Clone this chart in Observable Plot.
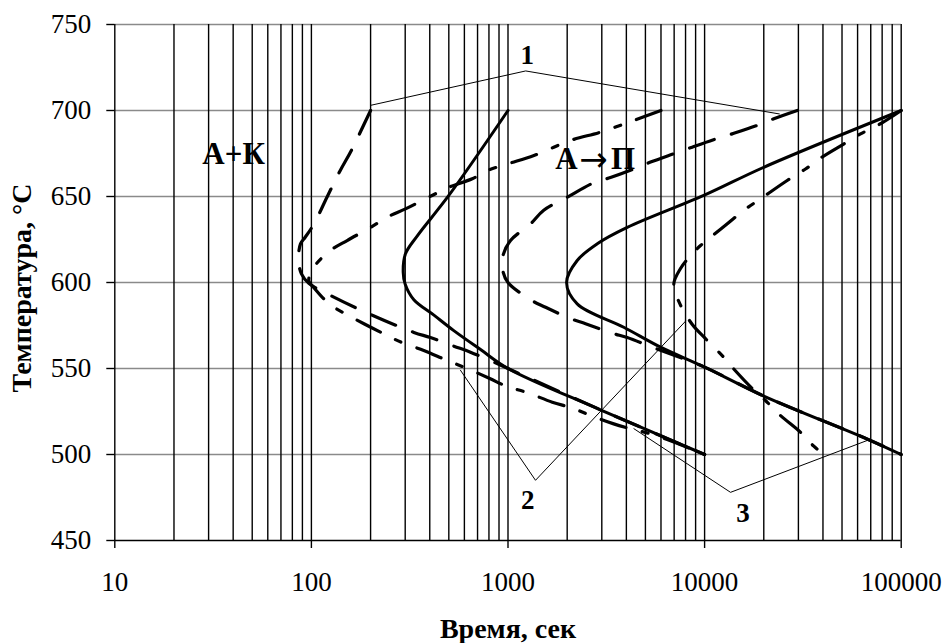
<!DOCTYPE html>
<html>
<head>
<meta charset="utf-8">
<script src="https://cdn.jsdelivr.net/npm/d3@7"></script>
<script src="https://cdn.jsdelivr.net/npm/@observablehq/plot@0.6"></script>
<style>
  html, body { margin: 0; padding: 0; background: #fff; }
  #chart { width: 946px; height: 643px; overflow: hidden; }
</style>
</head>
<body>
<div id="chart"></div>
<script>
// ---- axis ticks ----
const xTicks = [10, 100, 1000, 10000, 100000];
const xGrid = [10,20,30,40,50,60,70,80,90,100,200,300,400,500,600,700,800,900,1000,2000,3000,4000,5000,6000,7000,8000,9000,10000,20000,30000,40000,50000,60000,70000,80000,90000,100000];
const yTicks = [450, 500, 550, 600, 650, 700, 750];
const yGrid = [500, 550, 600, 650, 700, 750];

// ---- curves (time, s ; temperature, °C) ----
// solid, left (start)
const solidA_t = [1000, 500, 345, 301, 293, 300, 332, 420, 530, 725, 1000, 2950, 10000];
const solidA_T = [700, 650.6, 627, 616.7, 606, 599, 590, 581, 572, 561, 550, 526, 500];
// solid, right (finish)
const solidB_t = [100000, 20000, 9900, 4040, 2845, 2249, 1986, 2249, 3880, 5970, 10000, 20000, 67100, 100000];
const solidB_T = [700, 667, 650.6, 632, 622.5, 612.8, 600, 587.6, 574, 562.4, 550.8, 534, 509, 500];
// long dash, left
const dashL_t = [200, 160, 140, 120, 103, 93, 88, 86, 89, 97, 130, 204, 332, 403, 530, 644, 847, 1000, 2950, 10000];
const dashL_T = [700, 677, 665, 649.6, 634, 626.3, 622.5, 612.8, 605, 599.5, 591.5, 581, 571, 568, 563, 559.5, 553.7, 550, 526, 500];
// long dash, right
const dashR_t = [29600, 22500, 18500, 13800, 11100, 8650, 7110, 5310, 4370, 3320, 2730, 2000, 1520, 1300, 1030, 940, 945, 1000, 1300, 1553, 2080, 2480, 3390, 4040, 5410, 10000, 20000, 67100, 100000];
const dashR_T = [700, 695.2, 691.3, 686.4, 683, 678.7, 675.2, 670, 666, 661, 658, 649.6, 642, 634, 624.4, 615, 606, 600, 590, 585.6, 579, 576, 570.5, 568, 562.4, 550.8, 534, 509, 500];
// dash-dot, left
const dotL_t = [6000, 4370, 2950, 2080, 1355, 1000, 783, 658, 500, 411, 301, 243, 200, 152, 125, 103, 97, 103, 123, 144, 185, 243, 290, 373, 490, 620, 813, 990, 1253, 1680, 2120, 2630, 3450, 4200, 5300, 7250, 10000];
const dotL_T = [700, 694.2, 687.4, 682.6, 673.8, 669, 665, 660.3, 655.4, 650.6, 642.8, 638, 632, 624.4, 618.6, 609, 601, 597, 587.6, 582.7, 576, 569.2, 565, 560.5, 554.7, 550, 544, 539.5, 536, 530.4, 527, 522.7, 517.8, 515, 512, 506.5, 500];
// dash-dot, right
const dotR_t = [100000, 78500, 62100, 51200, 39600, 32600, 26300, 20400, 15860, 13000, 10720, 9540, 8500, 7530, 6970, 7530, 8660, 10100, 12500, 14000, 17460, 20400, 24300, 30700, 35800, 37500];
const dotR_T = [700, 692.3, 686.4, 680.6, 672.9, 666, 659.3, 650.6, 642, 634, 626.3, 621.5, 615.7, 608, 599, 587, 575.6, 567.4, 556.6, 550, 538.4, 531.4, 522.7, 513, 505, 503];

// ---- callout leader lines ----
const lead1_t = [200, 1230, 24000];
const lead1_T = [703, 723, 698];
const lead2_t = [573, 1380, 8000];
const lead2_T = [549, 485, 577.5];
const lead3_t = [4370, 13550, 68400];
const lead3_T = [515, 478, 508.5];

// ---- text annotations ----
const calloutText = ["1", "2", "3"];
const callout_t = [1253, 1260, 15670];
const callout_T = [727.3, 468.6, 460.6];
const regionText = ["А+К", "А", "П"];
const region_t = [40.2, 1984, 3846];
const region_T = [669, 665.7, 665.7];
const arrowText = ["→"];
const arrow_t = [2723];
const arrow_T = [670.9];

const xTitle = "Время, сек";
const yTitle = "Температура, °С";

const pts = (ts, Ts) => ts.map((t, i) => ({t, T: Ts[i]}));

const LONG = "26,18";
const DASHDOT = "26,17,6,17";

const chart = Plot.plot({
  width: 946,
  height: 643,
  marginLeft: 114.3,
  marginRight: 45.3,
  marginTop: 24,
  marginBottom: 103,
  x: {type: "log", domain: [10, 100000]},
  y: {domain: [450, 750]},
  style: {fontFamily: "'Liberation Serif', 'Times New Roman', serif", fontSize: "27px", background: "#fff", color: "#000"},
  marks: [
    Plot.ruleY(yGrid, {stroke: "#8a8a8a", strokeWidth: 1.5}),
    Plot.ruleX(xGrid, {stroke: "#000", strokeWidth: 1.4}),
    Plot.ruleY([450], {stroke: "#000", strokeWidth: 1.5}),
    Plot.axisX(xTicks, {tickSize: 8, tickPadding: 23, tickFormat: d => String(d), label: null, fontSize: 27, strokeWidth: 1.4}),
    Plot.axisY(yTicks, {tickSize: 8, tickPadding: 15.6, tickFormat: d => String(d), label: null, fontSize: 27, strokeWidth: 1.4}),
    // leader lines
    Plot.line(pts(lead1_t, lead1_T), {x: "t", y: "T", stroke: "#000", strokeWidth: 1}),
    Plot.line(pts(lead2_t, lead2_T), {x: "t", y: "T", stroke: "#000", strokeWidth: 1}),
    Plot.line(pts(lead3_t, lead3_T), {x: "t", y: "T", stroke: "#000", strokeWidth: 1}),
    // curves
    Plot.line(pts(dashL_t, dashL_T), {x: "t", y: "T", curve: "catmull-rom", stroke: "#000", strokeWidth: 3.2, strokeDasharray: LONG}),
    Plot.line(pts(dashR_t, dashR_T), {x: "t", y: "T", curve: "catmull-rom", stroke: "#000", strokeWidth: 3.2, strokeDasharray: LONG}),
    Plot.line(pts(dotL_t, dotL_T), {x: "t", y: "T", curve: "catmull-rom", stroke: "#000", strokeWidth: 3.2, strokeDasharray: DASHDOT}),
    Plot.line(pts(dotR_t, dotR_T), {x: "t", y: "T", curve: "catmull-rom", stroke: "#000", strokeWidth: 3.2, strokeDasharray: DASHDOT}),
    Plot.line(pts(solidA_t, solidA_T), {x: "t", y: "T", curve: "catmull-rom", stroke: "#000", strokeWidth: 3}),
    Plot.line(pts(solidB_t, solidB_T), {x: "t", y: "T", curve: "catmull-rom", stroke: "#000", strokeWidth: 3}),
    // annotations
    Plot.text(calloutText, {x: (d, i) => callout_t[i], y: (d, i) => callout_T[i], text: d => d, fontWeight: "bold", fontSize: 27, lineAnchor: "bottom", textAnchor: "middle"}),
    Plot.text(regionText, {x: (d, i) => region_t[i], y: (d, i) => region_T[i], text: d => d, fontWeight: "bold", fontSize: 31, lineAnchor: "bottom", textAnchor: "middle"}),
    Plot.text(arrowText, {x: (d, i) => arrow_t[i], y: (d, i) => arrow_T[i], text: d => d, fontFamily: "'DejaVu Sans'", fontSize: 34, lineAnchor: "middle", textAnchor: "middle"}),
    // axis titles
    Plot.text([xTitle], {frameAnchor: "bottom", text: d => d, dy: 97, lineAnchor: "bottom", textAnchor: "middle", fontWeight: "bold", fontSize: 28}),
    Plot.text([yTitle], {frameAnchor: "left", text: d => d, rotate: -90, dx: -84, dy: 5.5, lineAnchor: "bottom", textAnchor: "middle", fontWeight: "bold", fontSize: 28})
  ]
});
document.getElementById("chart").appendChild(chart);
</script>
</body>
</html>
